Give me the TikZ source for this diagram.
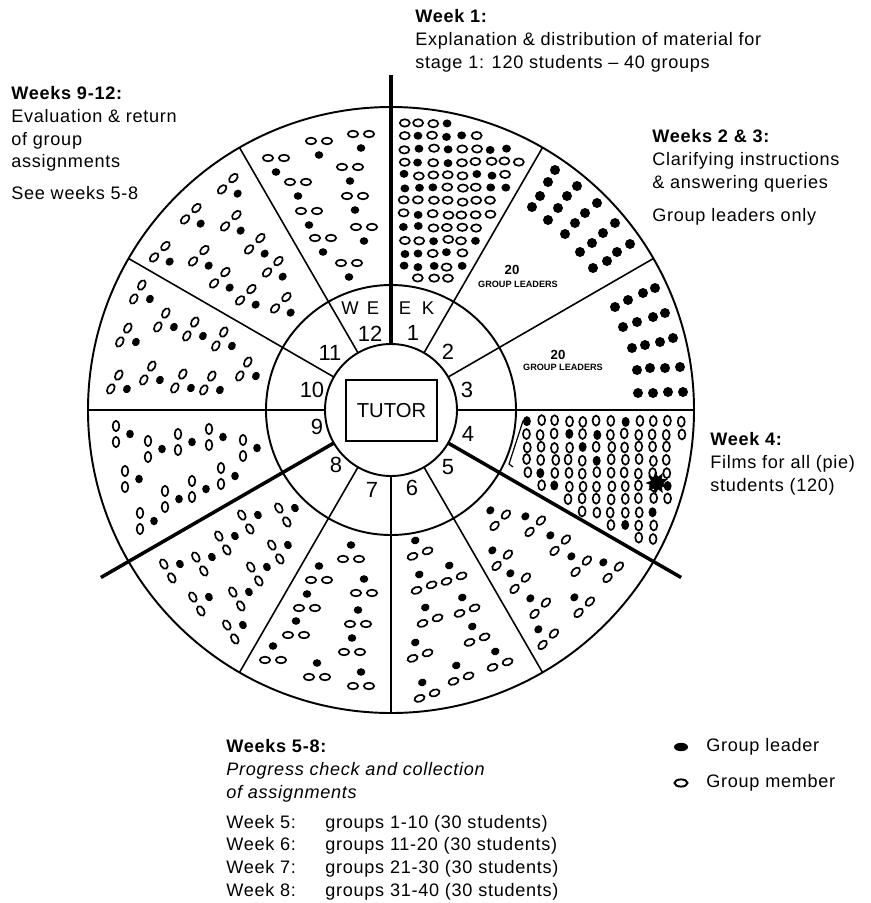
\documentclass[tikz,border=0pt]{standalone}
\usepackage{fontspec}
\setmainfont{Liberation Sans}
\newfontfamily\txtfont[LetterSpace=4]{Liberation Sans}
\usetikzlibrary{positioning, shapes}

\tikzset{
  ring/.style={line width=1.1pt},
  spoke/.style={line width=0.9pt},
  bigspoke/.style={line width=2pt},
  member/.style={draw, line width=0.95pt, fill=white},
  leader/.style={fill=black},
  txt/.style={font=\txtfont\fontsize{10.3}{13}\selectfont, align=left, anchor=north west, inner sep=0pt},
  num/.style={font=\fontsize{12.5}{12.5}\selectfont, inner sep=0pt},
  scrawl/.style={font=\fontsize{5.2}{6}\selectfont\bfseries, inner sep=0pt},
  grp/.pic={
    \fill[leader] (0,-8) ellipse[x radius=4.3, y radius=3.8];
    \draw[member] (-8,6) ellipse[x radius=5.2, y radius=3.3];
    \draw[member] (8,6) ellipse[x radius=5.2, y radius=3.3];
  }
}

\begin{document}
\begin{tikzpicture}[x=0.02cm, y=-0.02cm]
  \useasboundingbox (0,0) rectangle (870,903);
  \begin{scope}[shift={(391,410)}]
    \draw[ring] (0,0) circle[radius=303];
    \draw[ring] (0,0) circle[radius=125];
    \draw[ring] (0,0) circle[radius=66];
    \foreach \a in {-60,-30,0,60,90,120,180,210,240}
      \draw[spoke] (\a:66) -- (\a:303);
    \foreach \a in {-90,30,150}
      \draw[bigspoke] (\a:66) -- (\a:335);
    \pgfmathsetseed{11}
    \foreach \i in {0,...,12}{
      \foreach \j in {0,...,12}{
        \pgfmathsetmacro\X{13+14.5*\j+1.2*rand}
        \pgfmathsetmacro\Y{287-13*\i+1.2*rand}
        \pgfmathtruncatemacro\ok{(veclen(\X,\Y)<292)&&(veclen(\X,\Y)>133)&&(\X>7)&&(0.5*\Y-0.866*\X>7)}
        \ifnum\ok=1
          \pgfmathtruncatemacro\lead{rnd<0.3}
          \ifnum\lead=1
            \fill[leader] (\X,-\Y) ellipse[x radius=4.4, y radius=4];
          \else
            \draw[member] (\X,-\Y) ellipse[x radius=5, y radius=3.7];
          \fi
        \fi
      }
    }
    \foreach \i in {0,...,12}{
      \foreach \j in {0,...,11}{
        \pgfmathsetmacro\X{136+14*\j+rand}
        \pgfmathsetmacro\Y{-11-13*\i+rand}
        \pgfmathtruncatemacro\ok{(veclen(\X,\Y)<293)&&(veclen(\X,\Y)>133)&&(\Y<-7)&&(0.866*\Y+0.5*\X>7)}
        \ifnum\ok=1
          \pgfmathtruncatemacro\lead{rnd<0.2}
          \ifnum\lead=1
            \fill[leader] (\X,-\Y) ellipse[x radius=4, y radius=5];
          \else
            \draw[member] (\X,-\Y) ellipse[x radius=3.5, y radius=5];
          \fi
        \fi
      }
    }
  \end{scope}

  \foreach \x/\y in {555/170, 548/182, 577/186, 540/196, 567/196, 597/203, 532/207, 558/208, 585/213, 615/223,
                     548/220, 575/223, 603/233, 565/234, 592/243, 630/244, 580/252, 617/252, 607/261, 593/268}
    \fill[leader] (\x,\y) circle[radius=5];
  \foreach \x/\y in {655/288, 643/293, 628/300, 615/307, 665/313, 653/317, 637/322, 623/327, 673/338, 660/342,
                     645/345, 632/348, 680/367, 665/368, 650/368, 637/370, 683/392, 668/392, 653/393, 638/393}
    \fill[leader] (\x,\y) circle[radius=5];
  \node[scrawl, font=\fontsize{7.5}{8}\selectfont\bfseries] (n20a) at (512,270) {20};
  \node[scrawl] (gla) at (518,284) {GROUP LEADERS};
  \node[scrawl, font=\fontsize{7.5}{8}\selectfont\bfseries] (n20b) at (558,355) {20};
  \node[scrawl] (glb) at (563,367) {GROUP LEADERS};

  \draw[line width=0.7pt] (527,420) -- (523,421) -- (509,464) -- (513,467);
  \node[star, star points=9, star point ratio=1.8, fill, inner sep=0pt, minimum size=0.46cm, rotate=10] (splat) at (657,483) {};

  \foreach \x/\y in {496/516, 531/522, 556/541, 498/556, 516/579, 577/562, 609/568, 536/604, 580/603, 544/635}
    \pic[rotate=45] at (\x,\y) {grp};
  \foreach \x/\y in {418/548, 452/573, 422/582, 465/605, 428/615, 475/634, 418/650, 498/659, 459/673, 425/690}
    \pic[rotate=20] at (\x,\y) {grp};
  \foreach \x/\y in {351/553, 319/574, 364/587, 307/602, 358/618, 296/629, 352/646, 273/654, 317/671, 361/680}
    \pic at (\x,\y) {grp};
  \foreach \x/\y in {251/519, 288/512, 228/540, 281/549, 173/568, 205/561, 260/571, 202/601, 242/596, 236/629}
    \pic[rotate=-60] at (\x,\y) {grp};
  \foreach \x/\y in {122/434, 154/449, 184/442, 215/437, 249/448, 131/479, 171/499, 198/489, 227/476, 146/521}
    \pic[rotate=-90] at (\x,\y) {grp};
  \foreach \x/\y in {143/295, 167/323, 196/332, 225/342, 129/338, 249/372, 120/385, 153/376, 184/384, 213/386}
    \pic[rotate=-120] at (\x,\y) {grp};
  \foreach \x/\y in {232/188, 195/218, 235/225, 259/248, 164/256, 203/260, 277/271, 224/282, 250/299, 285/307}
    \pic[rotate=-135] at (\x,\y) {grp};
  \foreach \x/\y in {319/147, 361/140, 276/164, 350/173, 298/188, 355/202, 309/217, 364/233, 323/244, 349/269}
    \pic[rotate=180] at (\x,\y) {grp};

  \node[draw, line width=0.85pt, minimum width=1.82cm, minimum height=1.22cm, font=\fontsize{11.5}{12}\selectfont] (tutor) at (391.5,410.5) {TUTOR};
  \foreach \n/\x/\y in {1/413/333, 2/448/352, 3/467/390, 4/468/434, 5/448/467, 6/412/488,
                        7/372/490, 8/336/465, 9/317/427, 10/312/390, 11/330/353, 12/370/334}
    \node[num] (wk\n) at (\x,\y) {\n};
  \foreach \l/\x [count=\k] in {W/350, E/373, E/405, K/428}
    \node[num, font=\fontsize{10.5}{11}\selectfont] (week\k) at (\x,308) {\l};

  \node[txt] (wk1txt) at (415,9) {\textbf{Week 1:}\\Explanation \& distribution of material for\\stage 1: 120 students – 40 groups};
  \node[txt] (wk23txt) at (652,129) {\textbf{Weeks 2 \& 3:}\\Clarifying instructions\\\& answering queries\\[6pt]Group leaders only};
  \node[txt] (wk4txt) at (710,432) {\textbf{Week 4:}\\Films for all (pie)\\students (120)};
  \node[txt] (wk912txt) at (11,86) {\textbf{Weeks 9-12:}\\Evaluation \& return\\of group\\assignments\\[5pt]See weeks 5-8};
  \node[txt] (wk58txt) at (226,739) {\textbf{Weeks 5-8:}\\\textit{Progress check and collection}\\\textit{of assignments}\\[4pt]
    \makebox[1.98cm][l]{Week 5:}groups 1-10 (30 students)\\
    \makebox[1.98cm][l]{Week 6:}groups 11-20 (30 students)\\
    \makebox[1.98cm][l]{Week 7:}groups 21-30 (30 students)\\
    \makebox[1.98cm][l]{Week 8:}groups 31-40 (30 students)};

  \fill[leader] (681,747) ellipse[x radius=7, y radius=4.2];
  \node[txt, anchor=west] (leadkey) at (706,747) {Group leader};
  \draw[member, line width=1.1pt] (681,783) ellipse[x radius=6.5, y radius=3.6];
  \node[txt, anchor=west] (memkey) at (706,783) {Group member};
\end{tikzpicture}
\end{document}
